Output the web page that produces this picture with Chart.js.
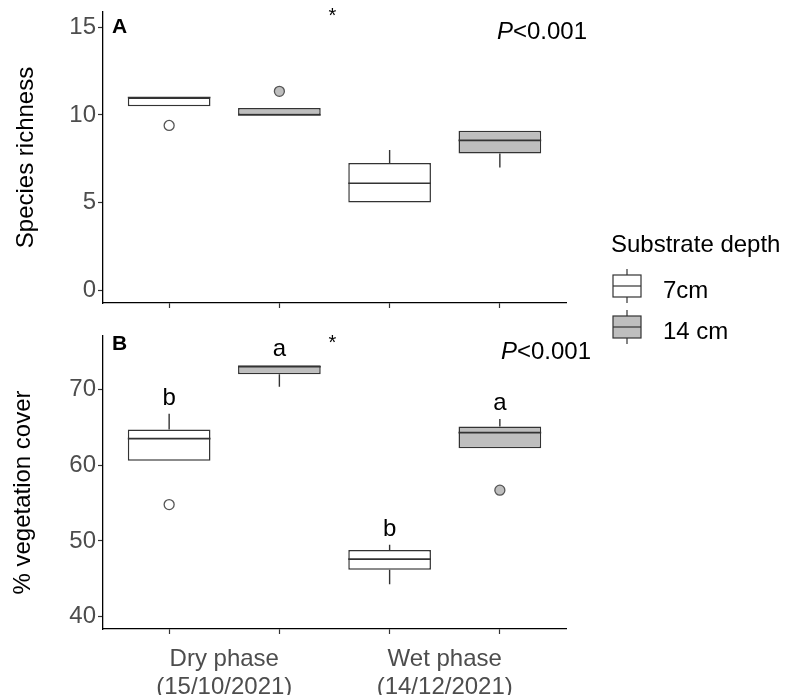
<!DOCTYPE html>
<html>
<head>
<meta charset="utf-8">
<script src="https://cdn.jsdelivr.net/npm/chart.js@4.4.1/dist/chart.umd.min.js"></script>
<style>
  html, body { margin: 0; padding: 0; background: #fff; }
  #wrap { position: relative; width: 790px; height: 695px; overflow: hidden; }
  #wrap canvas { position: absolute; left: 0; }
  #richness { top: -8px; }
  #cover { top: 316px; }
</style>
</head>
<body>
<div id="wrap">
  <canvas id="richness" width="790" height="358"></canvas>
  <canvas id="cover" width="790" height="379"></canvas>
</div>
<script>
const FONT = '"Liberation Sans", Arial, sans-serif'

const phases = ['Dry phase', 'Wet phase']
const phaseDates = ['(15/10/2021)', '(14/12/2021)']
const depths = ['7cm', '14 cm']

// one box per phase x depth, in plotting order
const boxPos = [1, 2, 3, 4]
const boxDepth = ['7cm', '14 cm', '7cm', '14 cm']

// Species richness
const richLow = [10.5, 10, 5, 7]
const richQ1 = [10.5, 10, 5, 7.8]
const richMed = [11, 10, 6.1, 8.55]
const richQ3 = [11, 10.4, 7.25, 9.1]
const richHigh = [11, 10.4, 8, 9.1]
const richOutPos = [1, 2]
const richOut = [9.4, 11.35]
const richTicks = [0, 5, 10, 15]

// % vegetation cover
const coverLow = [60.6, 70.35, 44.3, 62.25]
const coverQ1 = [60.6, 72, 46.2, 62.25]
const coverMed = [63.5, 73, 47.6, 64.3]
const coverQ3 = [64.7, 73.2, 48.8, 65.1]
const coverHigh = [66.8, 73.2, 49.5, 66.1]
const coverOutPos = [1, 4]
const coverOut = [54.8, 56.7]
const coverLetters = ['b', 'a', 'b', 'a']
const coverTicks = [40, 50, 60, 70]

const depthFill = { '7cm': '#ffffff', '14 cm': '#bebebe' }
const BOX_LINE = '#333333'

function buildDatasets(low, q1, med, q3, high, outPos, out) {
  const sets = depths.map(d => {
    const idx = boxPos.map((p, i) => i).filter(i => boxDepth[i] === d)
    return {
      label: d,
      data: idx.map(i => ({ x: boxPos[i], y: [q1[i], q3[i]] })),
      boxIdx: idx,
      stats: { low, med, high, q1, q3 },
      backgroundColor: depthFill[d],
      borderColor: BOX_LINE,
      borderWidth: 1.5,
      borderSkipped: false,
      grouped: false,
      categoryPercentage: 1,
      barPercentage: 0.75
    }
  })
  sets.push({
    type: 'scatter',
    label: 'outliers',
    data: outPos.map((p, i) => ({ x: p, y: out[i] })),
    backgroundColor: outPos.map(p => depthFill[boxDepth[boxPos.indexOf(p)]]),
    borderColor: '#555',
    borderWidth: 1.3,
    pointRadius: 5
  })
  return sets
}

// whiskers and median lines, placed through the chart scales
const boxPlot = {
  id: 'boxPlot',
  afterDatasetsDraw(chart) {
    const { ctx, scales: { y } } = chart
    ctx.save()
    ctx.strokeStyle = BOX_LINE
    chart.data.datasets.forEach((ds, di) => {
      if (!ds.boxIdx) return
      const meta = chart.getDatasetMeta(di)
      meta.data.forEach((bar, j) => {
        const i = ds.boxIdx[j]
        const s = ds.stats
        const half = bar.width / 2
        ctx.lineWidth = 1.4
        ctx.beginPath()
        if (s.high[i] > s.q3[i]) {
          ctx.moveTo(bar.x, y.getPixelForValue(s.q3[i]))
          ctx.lineTo(bar.x, y.getPixelForValue(s.high[i]))
        }
        if (s.low[i] < s.q1[i]) {
          ctx.moveTo(bar.x, y.getPixelForValue(s.q1[i]))
          ctx.lineTo(bar.x, y.getPixelForValue(s.low[i]))
        }
        ctx.stroke()
        ctx.lineWidth = 1.6
        ctx.beginPath()
        const ym = y.getPixelForValue(s.med[i])
        ctx.moveTo(bar.x - half, ym)
        ctx.lineTo(bar.x + half, ym)
        ctx.stroke()
      })
    })
    ctx.restore()
  }
}

// panel tag, star, P value and letters
const panelText = {
  id: 'panelText',
  afterDraw(chart, args, opts) {
    const { ctx, chartArea: a, scales: { x, y } } = chart
    ctx.save()
    ctx.fillStyle = '#000'
    ctx.textBaseline = 'middle'

    ctx.font = `bold 21px ${FONT}`
    ctx.textAlign = 'left'
    ctx.fillText(opts.tag, a.left + 9, a.top + opts.tagDy)

    ctx.font = `20px ${FONT}`
    ctx.textAlign = 'center'
    ctx.fillText('*', x.getPixelForValue((boxPos[1] + boxPos[2]) / 2) - 2, a.top + opts.starDy)

    ctx.font = `24px ${FONT}`
    ctx.textAlign = 'right'
    const right = a.right + opts.pDx
    const rest = '<0.001'
    ctx.fillText(rest, right, a.top + opts.pDy)
    const w = ctx.measureText(rest).width
    ctx.font = `italic 24px ${FONT}`
    ctx.fillText('P', right - w, a.top + opts.pDy)

    if (opts.letters) {
      ctx.font = `24px ${FONT}`
      ctx.textAlign = 'center'
      ctx.textBaseline = 'alphabetic'
      opts.letters.forEach((l, i) => {
        ctx.fillText(l, x.getPixelForValue(boxPos[i]), y.getPixelForValue(opts.letterAt[i]) - 9)
      })
    }
    ctx.restore()
  }
}

// legend with small box glyphs (page coordinates, shifted by the canvas top)
const boxLegend = {
  id: 'boxLegend',
  afterDraw(chart, args, opts) {
    if (!opts.show) return
    const { ctx } = chart
    ctx.save()
    ctx.translate(0, -opts.canvasTop)
    ctx.fillStyle = '#000'
    ctx.textBaseline = 'middle'
    ctx.textAlign = 'left'
    ctx.font = `24px ${FONT}`
    ctx.fillText('Substrate depth', 611, 245)
    depths.forEach((d, k) => {
      const cy = 286 + k * 41
      const x0 = 613, x1 = 641, xc = 627
      ctx.strokeStyle = BOX_LINE
      ctx.lineWidth = 1.2
      ctx.beginPath()
      ctx.moveTo(xc, cy - 17); ctx.lineTo(xc, cy + 17)
      ctx.stroke()
      ctx.fillStyle = depthFill[d]
      ctx.fillRect(x0, cy - 11, x1 - x0, 22)
      ctx.strokeRect(x0, cy - 11, x1 - x0, 22)
      ctx.beginPath()
      ctx.moveTo(x0, cy); ctx.lineTo(x1, cy)
      ctx.stroke()
      ctx.fillStyle = '#000'
      ctx.fillText(d, 663, cy + 5)
    })
    ctx.restore()
  }
}

function makePanel(id, cfg) {
  const scales = {
    x: {
      type: 'linear',
      offset: false,
      min: 0.4,
      max: 4.6,
      afterBuildTicks: s => { s.ticks = boxPos.map(v => ({ value: v })) },
      afterFit: s => { s.height = cfg.xHeight },
      ticks: { callback: () => '', autoSkip: false, maxRotation: 0 },
      grid: { offset: false, drawOnChartArea: false, tickLength: 5, tickColor: '#333', tickWidth: 1.2 },
      border: { color: '#000', width: 1.3 }
    },
    y: {
      min: cfg.yMin,
      max: cfg.yMax,
      afterBuildTicks: s => { s.ticks = cfg.ticks.map(v => ({ value: v })) },
      afterFit: s => { s.width = 103 },
      ticks: { color: '#4d4d4d', font: { size: 24, family: FONT }, padding: 2 },
      grid: { drawOnChartArea: false, tickLength: 5, tickColor: '#333', tickWidth: 1.2 },
      border: { color: '#000', width: 1.3 },
      title: {
        display: true,
        text: cfg.title,
        color: '#000',
        font: { size: 24, family: FONT },
        padding: { top: cfg.titlePad, bottom: 0 }
      }
    }
  }
  if (cfg.groupLabels) {
    scales.x2 = {
      type: 'linear',
      position: 'bottom',
      weight: 1,
      offset: false,
      min: 0.4,
      max: 4.6,
      afterBuildTicks: s => {
        s.ticks = [0, 2].map(i => ({ value: (boxPos[i] + boxPos[i + 1]) / 2 }))
      },
      afterFit: s => { s.height = cfg.x2Height },
      ticks: {
        callback: (v, i) => [phases[i], phaseDates[i]],
        color: '#4d4d4d',
        font: { size: 24, family: FONT, lineHeight: 1.17 },
        padding: 2,
        autoSkip: false,
        maxRotation: 0
      },
      grid: { display: false, offset: false },
      border: { display: false }
    }
  }
  return new Chart(document.getElementById(id), {
    type: 'bar',
    data: { datasets: cfg.datasets },
    options: {
      responsive: false,
      animation: false,
      layout: { padding: { left: 0, right: 224, top: 20, bottom: 0 } },
      plugins: {
        legend: { display: false },
        tooltip: { enabled: false },
        panelText: cfg.text,
        boxLegend: { show: !!cfg.legend, canvasTop: cfg.canvasTop }
      },
      scales
    },
    plugins: [boxPlot, panelText, boxLegend]
  })
}

makePanel('richness', {
  datasets: buildDatasets(richLow, richQ1, richMed, richQ3, richHigh, richOutPos, richOut),
  yMin: -0.74,
  yMax: 15.88,
  ticks: richTicks,
  title: 'Species richness',
  titlePad: 12,
  xHeight: 47,
  legend: true,
  canvasTop: -8,
  text: { tag: 'A', tagDy: 15, starDy: 4, pDx: 21, pDy: 20 }
})

makePanel('cover', {
  datasets: buildDatasets(coverLow, coverQ1, coverMed, coverQ3, coverHigh, coverOutPos, coverOut),
  yMin: 38.38,
  yMax: 77.05,
  ticks: coverTicks,
  // trailing spaces nudge the centred title a little lower, as in the original
  title: '% vegetation cover   ',
  titlePad: 9,
  xHeight: 6,
  x2Height: 60,
  groupLabels: true,
  canvasTop: 316,
  text: { tag: 'B', tagDy: 8, starDy: 7, pDx: 25, pDy: 16, letters: coverLetters, letterAt: coverHigh }
})
</script>
</body>
</html>
